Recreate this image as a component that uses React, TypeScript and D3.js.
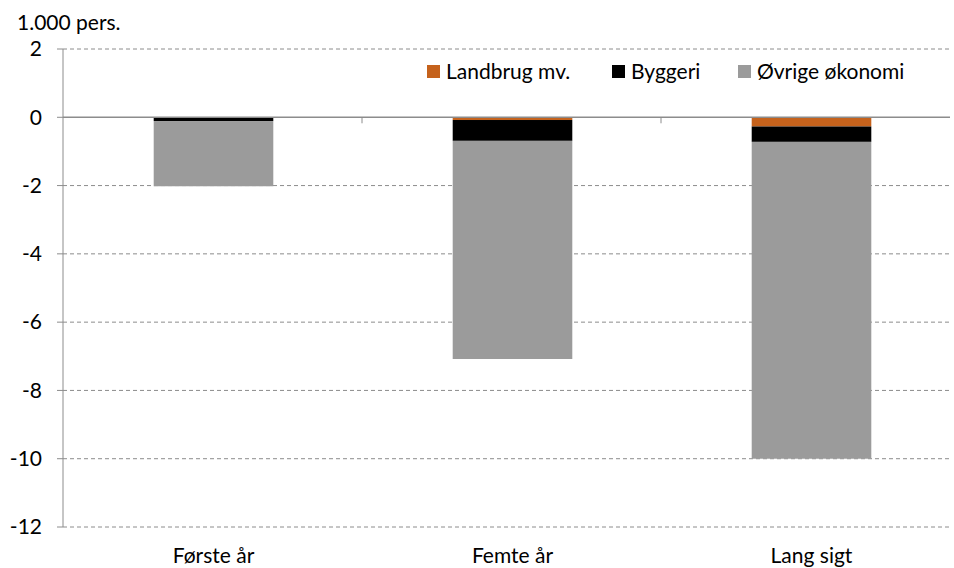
import React, { useEffect, useRef } from "react";
import * as d3 from "d3";

const categories = ["Første år", "Femte år", "Lang sigt"];
const seriesNames = ["Landbrug mv.", "Byggeri", "Øvrige økonomi"];
const landbrug = [-0.01, -0.08, -0.27];
const byggeri = [-0.1, -0.61, -0.45];
const oevrige = [-1.91, -6.39, -9.28];
const yTicks = [2, 0, -2, -4, -6, -8, -10, -12];
const colors = ["#c5621c", "#000000", "#9b9b9b"];

const FONT = "Lato, 'Open Sans', sans-serif";
const FS = "21px";

export default function App() {
  const ref = useRef<SVGSVGElement>(null);

  useEffect(() => {
    const width = 954;
    const height = 568;
    const svg = d3.select(ref.current).attr("width", width).attr("height", height);
    svg.selectAll("*").remove();

    const left = 63;
    const right = 950;

    const y = d3.scaleLinear().domain([2, -12]).range([49, 527]);
    const x = d3
      .scaleBand()
      .domain(categories)
      .range([left, left + 3 * 299])
      .paddingInner(0.6)
      .paddingOuter(0.3);

    // gridlines
    yTicks.forEach((t) => {
      if (t === 0) return;
      svg
        .append("line")
        .attr("x1", left)
        .attr("x2", right)
        .attr("y1", y(t))
        .attr("y2", y(t))
        .attr("stroke", "#8c8c8c")
        .attr("stroke-width", 1)
        .attr("stroke-dasharray", "4,3");
    });

    // stacked bars
    const rows = categories.map((c, i) => ({
      cat: c,
      vals: [landbrug[i], byggeri[i], oevrige[i]],
    }));
    rows.forEach((r) => {
      let acc = 0;
      r.vals.forEach((v, j) => {
        const y0 = acc;
        const y1 = acc + v;
        acc = y1;
        svg
          .append("rect")
          .attr("x", x(r.cat)! + 1)
          .attr("width", x.bandwidth())
          .attr("y", y(y0))
          .attr("height", y(y1) - y(y0))
          .attr("fill", colors[j]);
      });
    });

    // y axis line
    svg
      .append("line")
      .attr("x1", left)
      .attr("x2", left)
      .attr("y1", y(2))
      .attr("y2", y(-12))
      .attr("stroke", "#8c8c8c");

    // y ticks and labels
    yTicks.forEach((t) => {
      svg
        .append("line")
        .attr("x1", left - 6)
        .attr("x2", left)
        .attr("y1", y(t))
        .attr("y2", y(t))
        .attr("stroke", "#8c8c8c");
      svg
        .append("text")
        .attr("x", 42)
        .attr("y", y(t))
        .attr("dy", "0.35em")
        .attr("text-anchor", "end")
        .style("font-family", FONT)
        .style("font-size", FS)
        .attr("fill", "#000")
        .text(t);
    });

    // zero line
    svg
      .append("line")
      .attr("x1", left)
      .attr("x2", right)
      .attr("y1", y(0))
      .attr("y2", y(0))
      .attr("stroke", "#8c8c8c")
      .attr("stroke-width", 1.5);

    // category boundary ticks
    [1, 2].forEach((k) => {
      const xx = left + k * 299;
      svg
        .append("line")
        .attr("x1", xx)
        .attr("x2", xx)
        .attr("y1", y(0))
        .attr("y2", y(0) + 6)
        .attr("stroke", "#8c8c8c");
    });

    // category labels
    categories.forEach((c) => {
      svg
        .append("text")
        .attr("x", x(c)! + x.bandwidth() / 2 + 1)
        .attr("y", 563)
        .attr("text-anchor", "middle")
        .style("font-family", FONT)
        .style("font-size", FS)
        .attr("fill", "#000")
        .text(c);
    });

    // unit label
    svg
      .append("text")
      .attr("x", 17)
      .attr("y", 30)
      .style("font-family", FONT)
      .style("font-size", FS)
      .attr("fill", "#000")
      .text("1.000 pers.");

    // legend
    const legendX = [427, 612, 738];
    seriesNames.forEach((n, i) => {
      svg
        .append("rect")
        .attr("x", legendX[i])
        .attr("y", 65)
        .attr("width", 13)
        .attr("height", 13)
        .attr("fill", colors[i]);
      svg
        .append("text")
        .attr("x", legendX[i] + 19)
        .attr("y", 72)
        .attr("dy", "0.35em")
        .style("font-family", FONT)
        .style("font-size", FS)
        .attr("fill", "#000")
        .text(n);
    });
  }, []);

  return (
    <svg
      ref={ref}
      style={{ position: "absolute", left: 0, top: 0, display: "block" }}
    />
  );
}
